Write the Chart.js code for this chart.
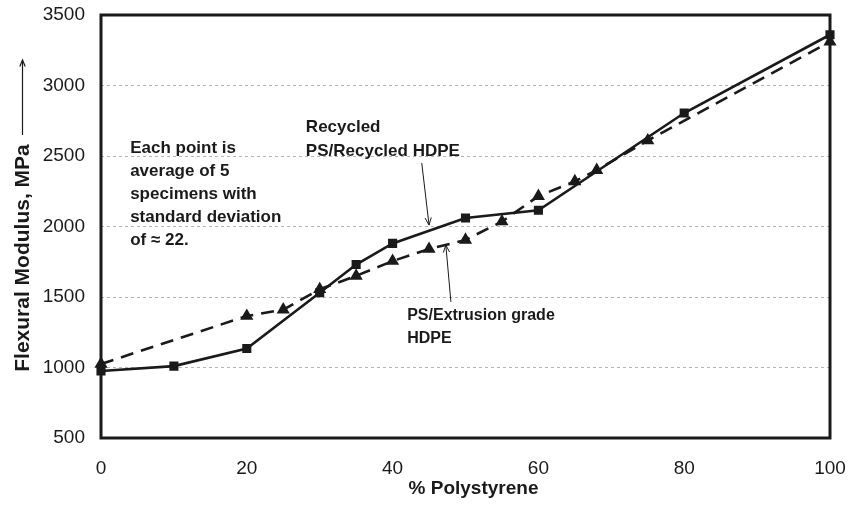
<!DOCTYPE html>
<html>
<head>
<meta charset="utf-8">
<script src="https://cdn.jsdelivr.net/npm/chart.js@4"></script>
<style>
  body { margin: 0; background: #fff; }
  #wrap { width: 849px; height: 506px; position: relative; }
</style>
</head>
<body>
<div id="wrap"><canvas id="modChart"></canvas></div>
<script>
// % polystyrene and flexural modulus (MPa)
const pctRecycled = [0, 10, 20, 30, 35, 40, 50, 60, 80, 100];
const modRecycled = [975, 1010, 1135, 1530, 1730, 1880, 2060, 2115, 2805, 3360];

const pctExtrusion = [0, 20, 25, 30, 35, 40, 45, 50, 55, 60, 65, 68, 75, 100];
const modExtrusion = [1025, 1365, 1410, 1555, 1650, 1755, 1840, 1905, 2035, 2215, 2320, 2400, 2610, 3310];

const xTicks = [0, 20, 40, 60, 80, 100];
const yTicks = [500, 1000, 1500, 2000, 2500, 3000, 3500];

const noteLines = ['Each point is', 'average of 5', 'specimens with', 'standard deviation', 'of \u2248 22.'];
const recycledLabel = ['Recycled', 'PS/Recycled HDPE'];
const extrusionLabel = ['PS/Extrusion grade', 'HDPE'];

const FONT = '"Liberation Sans", Arial, sans-serif';

function toPoints(xs, ys) {
    return xs.map((x, i) => ({ x: x, y: ys[i] }));
}

function arrow(ctx, x1, y1, x2, y2, head) {
    ctx.beginPath();
    ctx.moveTo(x1, y1);
    ctx.lineTo(x2, y2);
    ctx.stroke();
    const a = Math.atan2(y2 - y1, x2 - x1);
    ctx.beginPath();
    ctx.moveTo(x2 - head * Math.cos(a - 0.4), y2 - head * Math.sin(a - 0.4));
    ctx.lineTo(x2, y2);
    ctx.lineTo(x2 - head * Math.cos(a + 0.4), y2 - head * Math.sin(a + 0.4));
    ctx.stroke();
}

const frame = {
    id: 'frame',
    beforeDatasetsDraw(chart) {
        const { ctx, chartArea: a } = chart;
        ctx.save();
        ctx.strokeStyle = '#1a1a1a';
        ctx.lineWidth = 3;
        ctx.strokeRect(a.left, a.top, a.right - a.left, a.bottom - a.top);
        ctx.restore();
    },
    afterDatasetsDraw(chart) {
        const { ctx, scales: { x, y }, chartArea: a } = chart;
        ctx.save();
        ctx.fillStyle = '#1a1a1a';
        ctx.strokeStyle = '#1a1a1a';
        ctx.textBaseline = 'alphabetic';

        // note on the left
        ctx.font = 'bold 17px ' + FONT;
        ctx.textAlign = 'left';
        noteLines.forEach((t, i) => {
            ctx.fillText(t, x.getPixelForValue(4), y.getPixelForValue(2520) + i * 23);
        });

        // series labels
        recycledLabel.forEach((t, i) => {
            ctx.fillText(t, x.getPixelForValue(28.1), y.getPixelForValue(2670) + i * 24);
        });
        ctx.font = 'bold 16px ' + FONT;
        extrusionLabel.forEach((t, i) => {
            ctx.fillText(t, x.getPixelForValue(42), y.getPixelForValue(1337) + i * 23);
        });

        ctx.lineWidth = 1;
        arrow(ctx, x.getPixelForValue(44), y.getPixelForValue(2450),
              x.getPixelForValue(45), y.getPixelForValue(2010), 8);
        arrow(ctx, x.getPixelForValue(48), y.getPixelForValue(1465),
              x.getPixelForValue(47.3), y.getPixelForValue(1869), 8);

        // axis titles
        ctx.font = 'bold 19px ' + FONT;
        ctx.textAlign = 'center';
        ctx.fillText('% Polystyrene', (a.left + a.right) / 2 + 8, 494);

        ctx.save();
        ctx.translate(28.5, 258);
        ctx.rotate(-Math.PI / 2);
        ctx.font = 'bold 21px ' + FONT;
        ctx.fillText('Flexural Modulus, MPa', 0, 0);
        ctx.restore();

        ctx.lineWidth = 1.2;
        arrow(ctx, 22.5, 135, 22.5, 60, 7);
        ctx.restore();
    }
};

new Chart(document.getElementById('modChart').getContext('2d'), {
    type: 'scatter',
    data: {
        datasets: [
            {
                label: 'Recycled PS/Recycled HDPE',
                data: toPoints(pctRecycled, modRecycled),
                showLine: true,
                borderColor: '#1a1a1a',
                backgroundColor: '#1a1a1a',
                borderWidth: 2.6,
                pointStyle: 'rect',
                pointRadius: 4.6,
                pointHoverRadius: 4.6,
                clip: false
            },
            {
                label: 'PS/Extrusion grade HDPE',
                data: toPoints(pctExtrusion, modExtrusion),
                showLine: true,
                borderColor: '#1a1a1a',
                backgroundColor: '#1a1a1a',
                borderWidth: 2.6,
                borderDash: [13, 8],
                pointStyle: 'triangle',
                pointRadius: 5,
                pointHoverRadius: 5,
                clip: false
            }
        ]
    },
    options: {
        responsive: true,
        maintainAspectRatio: false,
        animation: false,
        layout: { padding: { top: 15, right: 19, bottom: 0, left: 0 } },
        plugins: {
            legend: { display: false },
            tooltip: { enabled: false }
        },
        scales: {
            x: {
                type: 'linear',
                min: 0,
                max: 100,
                afterFit: s => { s.height = 68; s.paddingLeft = 0; s.paddingRight = 0; },
                afterBuildTicks: s => { s.ticks = xTicks.map(v => ({ value: v })); },
                grid: { display: false, drawTicks: false },
                border: { display: false },
                ticks: {
                    padding: 19,
                    color: '#1a1a1a',
                    font: { family: FONT, size: 19 },
                    callback: v => String(v)
                }
            },
            y: {
                min: 500,
                max: 3500,
                afterFit: s => { s.width = 101; s.paddingTop = 0; s.paddingBottom = 0; },
                afterBuildTicks: s => { s.ticks = yTicks.map(v => ({ value: v })); },
                grid: {
                    drawTicks: false,
                    lineWidth: 1,
                    color: c => (c.tick && (c.tick.value === 500 || c.tick.value === 3500)) ? 'rgba(0,0,0,0)' : '#b5b5b5'
                },
                border: { display: false, dash: [3, 3] },
                ticks: {
                    padding: 16,
                    color: '#1a1a1a',
                    font: { family: FONT, size: 19 },
                    callback: v => String(v)
                }
            }
        }
    },
    plugins: [frame]
});
</script>
</body>
</html>
